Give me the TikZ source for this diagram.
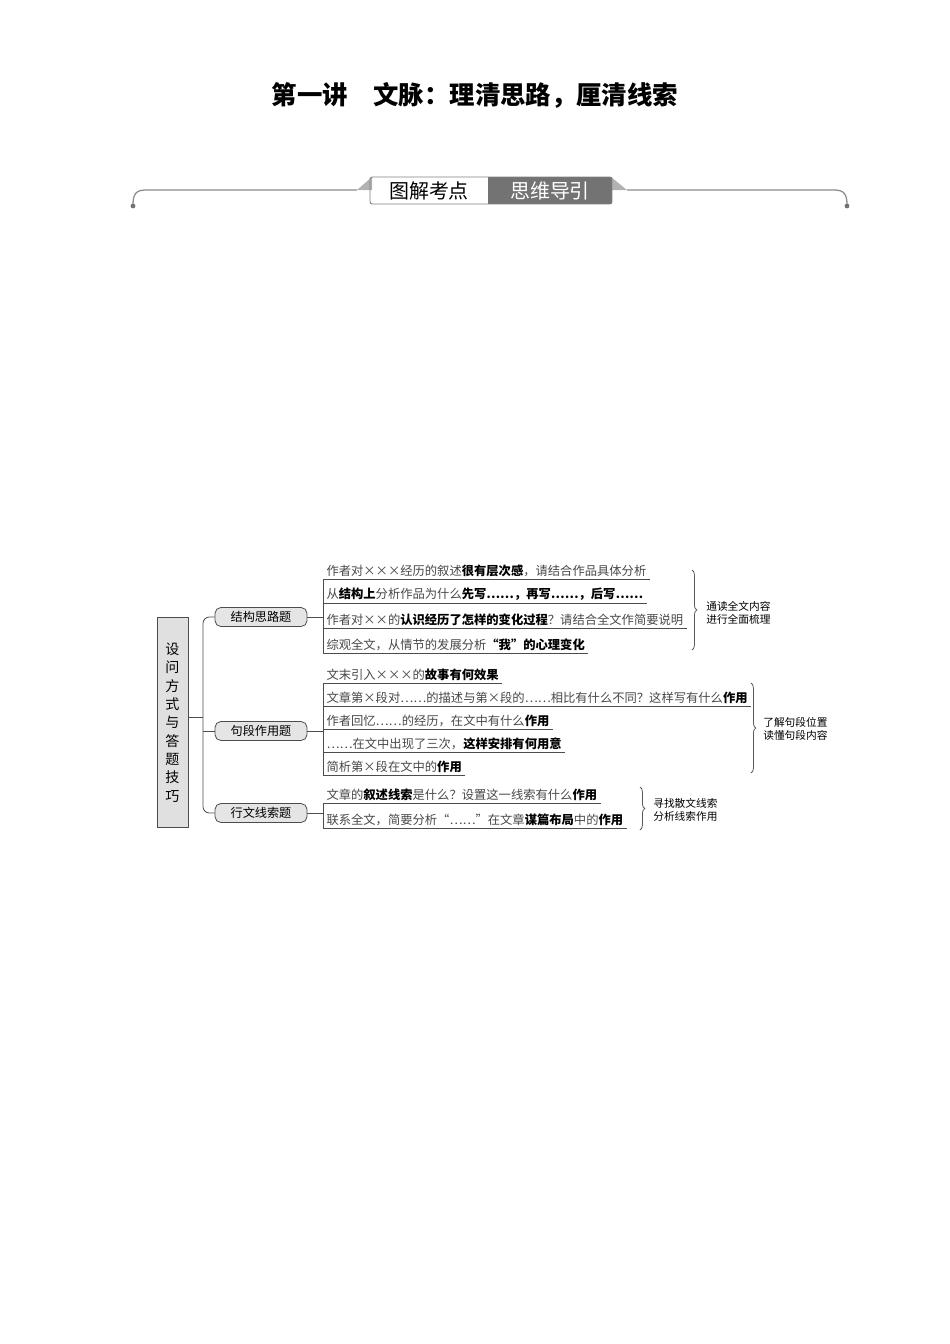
\documentclass[tikz,border=0pt]{standalone}
\usepackage{fontspec}
\setmainfont{Noto Sans CJK SC}
\usetikzlibrary{positioning,calc,decorations.pathreplacing}
\tikzset{
    mainbox/.style={draw=black!70, fill=black!12, line width=0.6pt, minimum width=19.4pt, minimum height=132pt, align=center, font=\fontsize{8.8}{11.5}\selectfont},
    branch/.style={draw=black!70, fill=black!10, line width=0.5pt, rounded corners=3.5pt, minimum width=57.5pt, minimum height=11.8pt, inner sep=1pt, font=\fontsize{7.6}{9}\selectfont},
    row/.style={anchor=south west, inner xsep=2pt, inner ysep=1.2pt, font=\fontsize{7.7}{9}\selectfont, text=black!72},
    conn/.style={draw=black!70, line width=0.5pt},
    brace/.style={decorate, decoration={brace, amplitude=3pt}, draw=black!65, line width=0.5pt},
    tip/.style={anchor=west, align=left, inner sep=0pt, font=\fontsize{6.7}{8.2}\selectfont},
    rim/.style={draw=black!45, line width=0.8pt}
}
\newcommand{\hl}[1]{\textcolor{black}{\textbf{#1}}}

\begin{document}
\begin{tikzpicture}[x=0.626pt,y=-0.626pt]
  \useasboundingbox (0,0) rectangle (950,1344);

  % --- Title ---
  \node (title) at (475,95) {\fontsize{15.9}{18}\selectfont\bfseries 第一讲　文脉：理清思路，厘清线索};

  % --- Banner ---
  \fill[black!30] (357,190) -- (372,177) -- (372,190) -- cycle;
  \fill[black!30] (611,177) -- (627,190) -- (611,190) -- cycle;
  \draw[rim] (133,205) .. controls (133,194) and (136,190) .. (146,190) -- (357,190);
  \draw[rim] (627,190) -- (834,190) .. controls (844,190) and (847,194) .. (847,205);
  \fill[black!55] (133,206) circle (1.5pt);
  \fill[black!55] (847,206) circle (1.5pt);
  \fill[black!55] (488,177) rectangle (612,204);
  \draw[black!50, line width=0.6pt, rounded corners=1.5pt] (370,177) rectangle (612,204);
  \node (tujie) at (429,190.5) {\fontsize{12.5}{14}\selectfont 图解考点};
  \node[text=white] (siwei) at (550,190.5) {\fontsize{12.5}{14}\selectfont 思维导引};

  % --- Main box and branches ---
  \node[mainbox] (main) at (172.5,722.5) {设\\问\\方\\式\\与\\答\\题\\技\\巧};
  \node[branch] (jiegou) at (261,617) {结构思路题};
  \node[branch] (juduan) at (261,731) {句段作用题};
  \node[branch] (xianjian) at (261,813) {行文线索题};

  \coordinate (trunk) at (203,717);
  \draw[conn] (main.east |- trunk) -- (trunk);
  \draw[conn, rounded corners=4pt] (jiegou.west) -| (trunk) |- (xianjian.west);
  \draw[conn] (juduan.west) -- (juduan.west -| trunk);

  % --- Questions: structure ---
  \node[row] (a1) at (323,579) {作者对×××经历的叙述\hl{很有层次感}，请结合作品具体分析};
  \node[row] (a2) at (323,603) {从\hl{结构上}分析作品为什么\hl{先写……，再写……，后写……}};
  \node[row] (a3) at (323,628) {作者对××的\hl{认识经历了怎样的变化过程}？请结合全文作简要说明};
  \node[row] (a4) at (323,653) {综观全文，从情节的发展分析\hl{“我”的心理变化}};

  % --- Questions: sentences and paragraphs ---
  \node[row] (b1) at (323,683) {文末引入×××的\hl{故事有何效果}};
  \node[row] (b2) at (323,706) {文章第×段对……的描述与第×段的……相比有什么不同？这样写有什么\hl{作用}};
  \node[row] (b3) at (323,729) {作者回忆……的经历，在文中有什么\hl{作用}};
  \node[row] (b4) at (323,752) {……在文中出现了三次，\hl{这样安排有何用意}};
  \node[row] (b5) at (323,775) {简析第×段在文中的\hl{作用}};

  % --- Questions: clues ---
  \node[row] (c1) at (323,803) {文章的\hl{叙述线索}是什么？设置这一线索有什么\hl{作用}};
  \node[row] (c2) at (323,828) {联系全文，简要分析“……”在文章\hl{谋篇布局}中的\hl{作用}};

  \foreach \r in {a1,a2,a3,a4,b1,b2,b3,b4,b5,c1,c2}
    \draw[conn] (\r.south west) -- (\r.south east);
  \draw[conn] (a1.south west) -- (a4.south west);
  \draw[conn] (b1.south west) -- (b5.south west);
  \draw[conn] (c1.south west) -- (c2.south west);
  \draw[conn] (jiegou.east) -- (jiegou.east -| a1.south west);
  \draw[conn] (juduan.east) -- (juduan.east -| b1.south west);
  \draw[conn] (xianjian.east) -- (xianjian.east -| c1.south west);

  % --- Braces and tips ---
  \coordinate (ba1) at (692,570);
  \coordinate (ba2) at (692,650);
  \coordinate (bb1) at (751,683);
  \coordinate (bb2) at (751,773);
  \coordinate (bc1) at (640,787);
  \coordinate (bc2) at (640,830);
  \draw[brace] (ba1) -- (ba2);
  \draw[brace] (bb1) -- (bb2);
  \draw[brace] (bc1) -- (bc2);
  \node[tip] (tipa) at (706,612.5) {通读全文内容\\进行全面梳理};
  \node[tip] (tipb) at (763,729) {了解句段位置\\读懂句段内容};
  \node[tip] (tipc) at (653,809.5) {寻找散文线索\\分析线索作用};
\end{tikzpicture}
\end{document}
